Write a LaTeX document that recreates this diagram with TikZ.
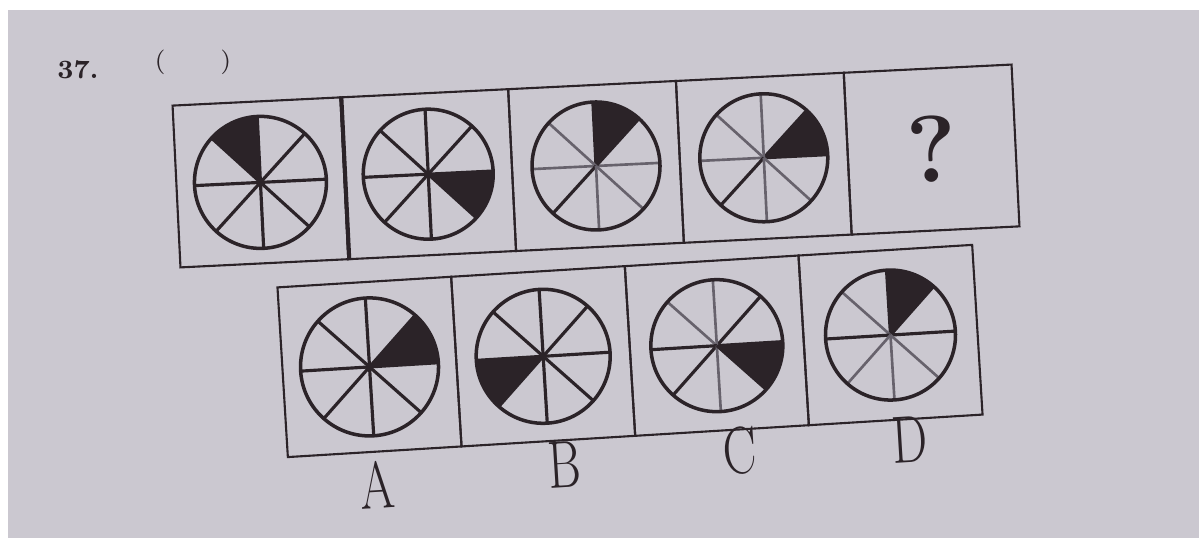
\documentclass[tikz,border=0pt]{standalone}
\definecolor{paper}{HTML}{CBC8D0}
\definecolor{ink}{HTML}{2B2328}
\definecolor{faint}{HTML}{67626C}
\usepackage{tikz}
\usetikzlibrary{calc}

\tikzset{
  cell/.style={draw=ink, line width=0.6pt, inner sep=0pt},
  dk/.style={ink, line width=0.9pt},
  lt/.style={faint, line width=0.75pt},
}

% wheel: centre, radius, start angle of the black sector, spoke styles from 0 deg
\newcommand{\wheel}[4]{%
  \fill[ink] (#1) -- ++(#3:#2) arc[start angle=#3, end angle=#3+45, radius=#2] -- cycle;
  \foreach \s [count=\i] in {#4} {
    \draw[\s] (#1) -- ++({45*(\i-1)}:#2);
  }
  \draw[ink, line width=1pt] (#1) circle[radius=#2];
}

\begin{document}
\begin{tikzpicture}
  \useasboundingbox (0,0) rectangle (11.99,5.38);
  % Paper
  \fill[white] (0,0) rectangle (11.99,5.38);
  \fill[paper] (0.08,0) rectangle (11.99,5.28);
  % Question number
  \node[ink, font=\fontsize{7.5}{8}\selectfont\bfseries] (num) at (0.78,4.68) {37.};
  \node[ink, font=\fontsize{7}{8}\selectfont] (paren) at (1.93,4.76) {(\hspace{5.5mm})};
  % Top row
  \begin{scope}[shift={(5.96,3.72)}, rotate=2.8, transform shape]
    \foreach \i in {1,...,5} {
      \node[cell, minimum width=1.68cm, minimum height=1.62cm] (t\i) at ({(\i-3)*1.68},0) {};
    }
    \draw[ink, line width=1.1pt] (t1.north east) -- (t1.south east);
    \wheel{t1.center}{0.66}{90}{dk,dk,dk,dk,dk,dk,dk,dk}
    \wheel{t2.center}{0.65}{315}{dk,dk,dk,dk,dk,dk,dk,dk}
    \wheel{t3.center}{0.64}{45}{lt,dk,dk,lt,lt,dk,lt,lt}
    \wheel{t4.center}{0.64}{0}{dk,dk,lt,lt,lt,dk,lt,lt}
    \node[ink, font=\fontsize{27}{30}\selectfont\bfseries] (q) at (t5.center) {?};
  \end{scope}
  % Answer row
  \begin{scope}[shift={(6.30,1.87)}, rotate=3.5, transform shape]
    \foreach \i in {1,...,4} {
      \node[cell, minimum width=1.74cm, minimum height=1.70cm] (b\i) at ({(\i-2.5)*1.74},0) {};
    }
    \wheel{b1.center}{0.69}{0}{dk,dk,dk,dk,dk,dk,dk,dk}
    \wheel{b2.center}{0.67}{180}{dk,dk,dk,dk,dk,dk,dk,dk}
    \wheel{b3.center}{0.66}{315}{dk,dk,lt,lt,dk,dk,lt,dk}
    \wheel{b4.center}{0.65}{45}{dk,dk,dk,lt,dk,lt,lt,lt}
    \foreach \l/\x/\y in {A/-2.60/-1.18, B/-0.72/-1.10, C/1.04/-1.06, D/2.74/-1.06} {
      \node[ink, font=\fontsize{19}{22}\selectfont, xscale=0.75] (l\l) at (\x,\y) {\l};
    }
  \end{scope}
\end{tikzpicture}
\end{document}
